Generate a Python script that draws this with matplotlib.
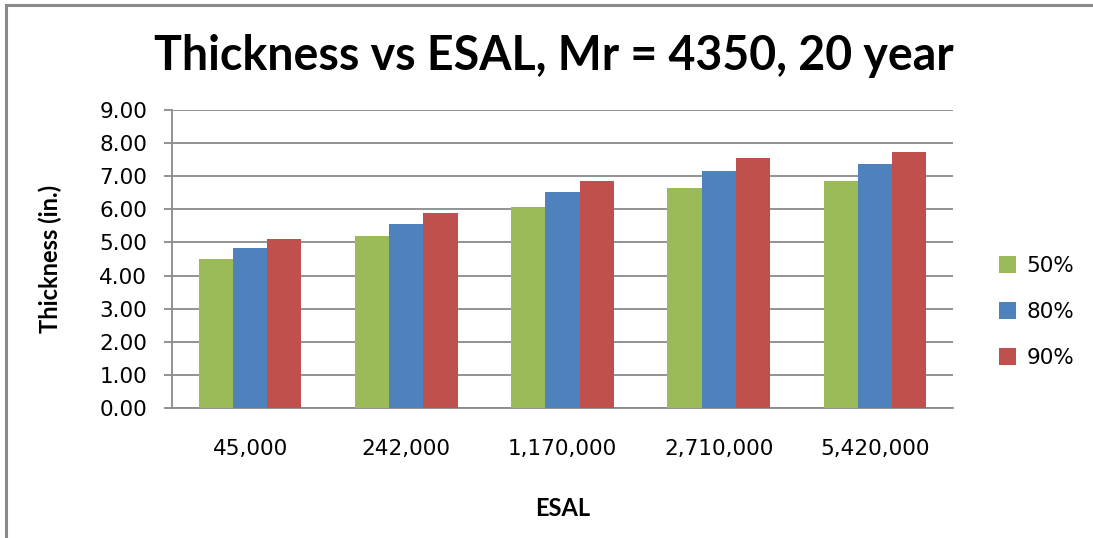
import matplotlib
matplotlib.use('Agg')
import matplotlib.pyplot as plt
from matplotlib.lines import Line2D
import numpy as np

# valeurs
esal = ['45,000', '242,000', '1,170,000', '2,710,000', '5,420,000']
reliability = ['50%', '80%', '90%']
thick_50 = [4.50, 5.19, 6.06, 6.66, 6.85]
thick_80 = [4.83, 5.55, 6.52, 7.15, 7.36]
thick_90 = [5.09, 5.88, 6.85, 7.54, 7.72]
colors = ['#9BBB59', '#4F81BD', '#C0504D']

bold_font = ['Lato', 'DejaVu Sans']

fig = plt.figure(figsize=(10.93, 5.38), dpi=100)
ax = fig.add_axes([0.1574, 0.2416, 0.7145, 0.5539])

x = np.arange(len(esal))
w = 0.219
for i, (vals, lab) in enumerate(zip([thick_50, thick_80, thick_90], reliability)):
    ax.bar(x + (i - 1) * w, vals, w, color=colors[i], label=lab, zorder=3)

ax.set_xlim(-0.5, len(esal) - 0.5)
ax.set_ylim(0, 9)
ax.set_yticks(np.arange(0, 9.01, 1))
ax.set_yticklabels([f'{v:.2f}' for v in np.arange(0, 9.01, 1)])
ax.set_xticks(x)
ax.set_xticklabels(esal)
ax.yaxis.grid(True, color='#8a8a8a', linewidth=1.3, zorder=0)
ax.set_axisbelow(True)

for s in ['top', 'right']:
    ax.spines[s].set_visible(False)
for s in ['left', 'bottom']:
    ax.spines[s].set_color('#8a8a8a')
    ax.spines[s].set_linewidth(1.3)

ax.tick_params(axis='y', length=6, width=1.3, color='#8a8a8a', labelsize=15.5, pad=12)
ax.tick_params(axis='x', length=0, labelsize=15.5, pad=22)

ax.set_ylabel('Thickness (in.)', fontsize=17, fontweight='bold', family=bold_font)
ax.yaxis.set_label_coords(-0.141, 0.5)
ax.set_xlabel('ESAL', fontsize=17, fontweight='bold', family=bold_font)
ax.xaxis.set_label_coords(0.5, -0.299)

fig.text(0.507, 0.895, 'Thickness vs ESAL, Mr = 4350, 20 year', ha='center', va='center',
         fontsize=33.5, fontweight='bold', family=bold_font)

fig.legend(loc='center left', bbox_to_anchor=(0.896, 0.42), frameon=False, fontsize=15.5,
           handlelength=0.8, handleheight=0.8, handletextpad=0.5, labelspacing=1.2)

# cadre gris (bord gauche et haut seulement)
fig.add_artist(Line2D([6 / 1093, 6 / 1093], [0, 1 - 5 / 538], transform=fig.transFigure,
                      color='#8a8a8a', linewidth=2.2))
fig.add_artist(Line2D([6 / 1093, 1], [1 - 5 / 538, 1 - 5 / 538], transform=fig.transFigure,
                      color='#8a8a8a', linewidth=2.2))

fig.savefig('out.png', dpi=100)
